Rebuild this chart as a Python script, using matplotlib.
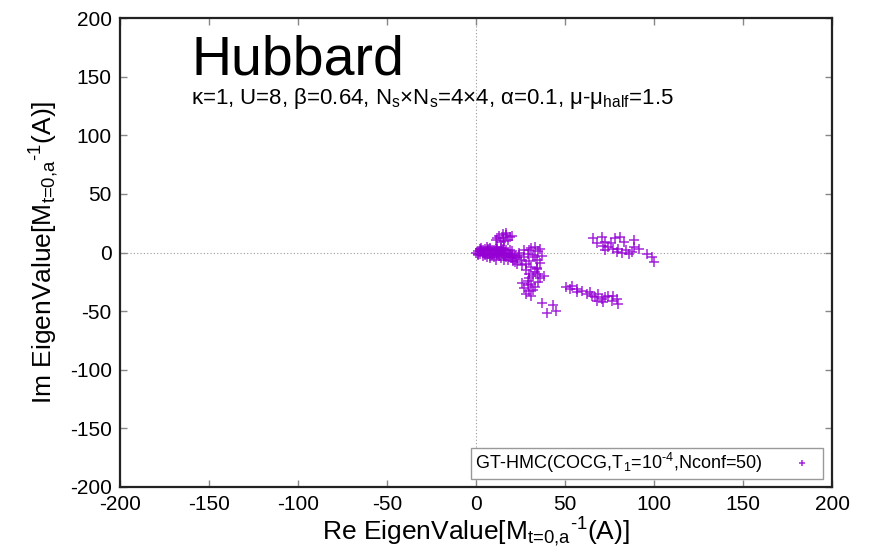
import numpy as np
import matplotlib
matplotlib.use('Agg')
import matplotlib.pyplot as plt

plt.rcParams['font.family'] = ['Liberation Sans', 'DejaVu Sans']
plt.rcParams['mathtext.fontset'] = 'custom'
plt.rcParams['mathtext.rm'] = 'Liberation Sans'
plt.rcParams['mathtext.it'] = 'Liberation Sans'
plt.rcParams['mathtext.bf'] = 'Liberation Sans'
plt.rcParams['axes.unicode_minus'] = False

#eigenvalues (Re, Im)
re_vals = [0, 1, 2, 3, 4, 5, 5, 6, 7, 8, 8, 9, 10, 10, 11, 12, 13, 14, 14, 15,
           16, 17, 18, 18, 19, 20, 21, 3, 6, 12, 16, 22, 2, 1, 7, 9, 11, 13, 15, 17,
           19, 4, 6, 8, 10, 12, 14, 16, 20, 2,
           1, 3, 5, 7, 9, 11, 13, 15, 17, 19, 21, 23, 4, 8, 12, 16, 20, 24,
           11, 13, 15, 17, 19, 14, 16, 18, 12, 20, 17, 15,
           22, 25, 24, 27, 28, 30, 30, 32, 33, 34, 35, 36, 31, 29, 26, 33, 36, 34,
           37, 31, 27, 23,
           28, 30, 32, 29, 31, 27, 30, 33, 35, 36, 33, 28, 31, 34, 38, 32, 29, 26,
           35, 30,
           37, 43, 40, 45,
           66, 70.6, 72.5, 78, 81, 83, 88.5, 68, 74.4, 77, 80, 84, 87.6, 72.5, 79,
           91.4, 96, 99, 100, 71.6, 82, 85.7, 76, 89,
           50.8, 53.7, 56.5, 59.3, 62.1, 65, 66.8, 68.8, 70.6, 72.5, 74.4, 76.3, 79,
           80, 64, 67.8, 71.6, 56.5, 52.7, 77.2]
im_vals = [0, 1, -1, 2, 0, 3, -2, 1, -1, 4, -3, 2, 0, -4, 3, -2, 1, -5, 4, -1,
           -3, 2, -6, 0, -4, -2, -7, 4, 5, 5, 4, -3, 3, -2, 3, -2, -6, -3, 2, -4,
           -1, -3, -4, -5, 2, 0, 1, -6, -5, 1,
           -1, 1, -1, 2, -1, 1, -1, 3, -2, 2, -4, -5, 2, 3, 3, 0, 1, -2,
           11, 14, 12, 15, 13, 9, 10, 11, 12, 14, 17, 16,
           -8, -6, 0, -4, -10, -7, 2, -2, 5, -6, 1, -9, -12, -1, -11, -4, 3, -13,
           -3, 4, 2, -10,
           -15, -18, -20, -24, -27, -30, -33, -29, -25, -22, -17, -35, -37, -14, -20,
           -32, -28, -26, -18, -22,
           -43, -45, -52, -50,
           12, 13.5, 9.2, 12, 13.5, 9.2, 10.6, 7.7, 4.9, 3.4, 3.4, 2, 0.6, 2, 0.6,
           3.4, -0.9, -3.7, -8, 5.7, 0, -0.9, 7.7, 5,
           -29.8, -28.3, -31.2, -32.6, -35.5, -36.9, -38.3, -35.5, -39.8, -38.3, -36.9,
           -41.2, -39.8, -44, -34, -41.2, -42.6, -34, -31.2, -36.9]

fig = plt.figure(figsize=(8.71, 5.53), dpi=100)
ax = fig.add_axes([120/871, 1-487/553, 712/871, 469/553])

#zero axes
ax.axhline(0, color='#999999', lw=0.8, ls=(0, (1, 2)), zorder=0)
ax.axvline(0, color='#999999', lw=0.8, ls=(0, (1, 2)), zorder=0)

ax.plot(re_vals, im_vals, ls='none', marker='+', ms=7.5, mew=1.1, color='#9400d3',
        alpha=0.85, label=r'GT-HMC(COCG,T$_1$=10$^{\text{-4}}$,Nconf=50)')

ax.set_xlim(-200, 200)
ax.set_ylim(-200, 200)
ax.set_xticks(np.arange(-200, 201, 50))
ax.set_yticks(np.arange(-200, 201, 50))
ax.tick_params(direction='in', length=5, width=1, color='#888888',
               top=True, right=True, labelsize=15, pad=6)
for s in ax.spines.values():
    s.set_linewidth(1.6)
    s.set_color('#222222')

lab = r'EigenValue[M$_{\text{t=0,a}}{}^{\text{-1}}$(A)]'
ax.set_xlabel('Re ' + lab, fontsize=19, labelpad=1)
ax.set_ylabel('Im ' + lab, fontsize=19, labelpad=6)

ax.text(-160, 152, 'Hubbard', fontsize=40, va='baseline')
ax.text(-160, 127, r'κ=1, U=8, β=0.64, N$_s$×N$_s$=4×4, α=0.1, μ-μ$_{half}$=1.5',
        fontsize=16, va='baseline')

leg = ax.legend(loc='lower right', markerfirst=False, fontsize=13,
                bbox_to_anchor=(0.988, 0.017), borderaxespad=0, fancybox=False,
                framealpha=1, edgecolor='#999999', handlelength=2.0,
                borderpad=0.2, handletextpad=1.2)
leg.get_frame().set_linewidth(1.0)
for h in leg.legend_handles:
    h.set_markersize(5)

plt.savefig('out.png', dpi=100)
